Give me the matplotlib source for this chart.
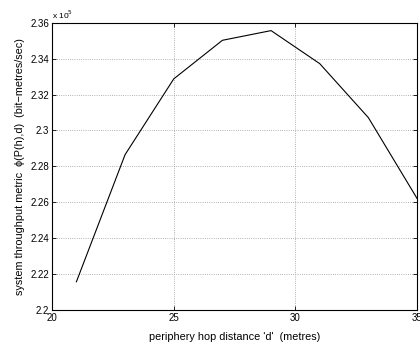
import numpy as np
import matplotlib
matplotlib.use('Agg')
import matplotlib.pyplot as plt
from matplotlib.ticker import FuncFormatter

# hop distance d (metres) and throughput (x 1e5 bit-metres/sec)
hop_d = [21, 23, 25, 27, 29, 31, 33, 35]
throughput = [2.2157, 2.2865, 2.3287, 2.3502, 2.3556, 2.3372, 2.3071, 2.2621]
xticks = [20, 25, 30, 35]
yticks = [2.2, 2.22, 2.24, 2.26, 2.28, 2.3, 2.32, 2.34, 2.36]

plt.rcParams['font.family'] = ['Liberation Sans', 'DejaVu Sans']

fig = plt.figure(figsize=(4.2, 3.44), dpi=100)
ax = fig.add_axes([0.124, 0.099, 0.869, 0.835])
ax.plot(hop_d, throughput, color='black', lw=0.8)

ax.set_xlim(20, 35)
ax.set_ylim(2.2, 2.36)
ax.set_xticks(xticks)
ax.set_yticks(yticks)
ax.yaxis.set_major_formatter(FuncFormatter(lambda v, p: '%g' % v))
ax.tick_params(direction='in', top=True, right=True, labelsize=7, length=3, width=0.6, pad=2)
ax.grid(True, linestyle=':', color='#999999', lw=0.6)
for s in ax.spines.values():
    s.set_linewidth(0.8)

ax.set_xlabel("periphery hop distance 'd'  (metres)", fontsize=7.8, labelpad=7)
ax.set_ylabel("system throughput metric  \u03d5(P(h),d)  (bit\u2212metres/sec)", fontsize=7.8, labelpad=4)
ax.text(0.0, 1.005, r'x 10$^5$', transform=ax.transAxes, fontsize=6, va='bottom', ha='left')

fig.savefig('out.png', dpi=100)
